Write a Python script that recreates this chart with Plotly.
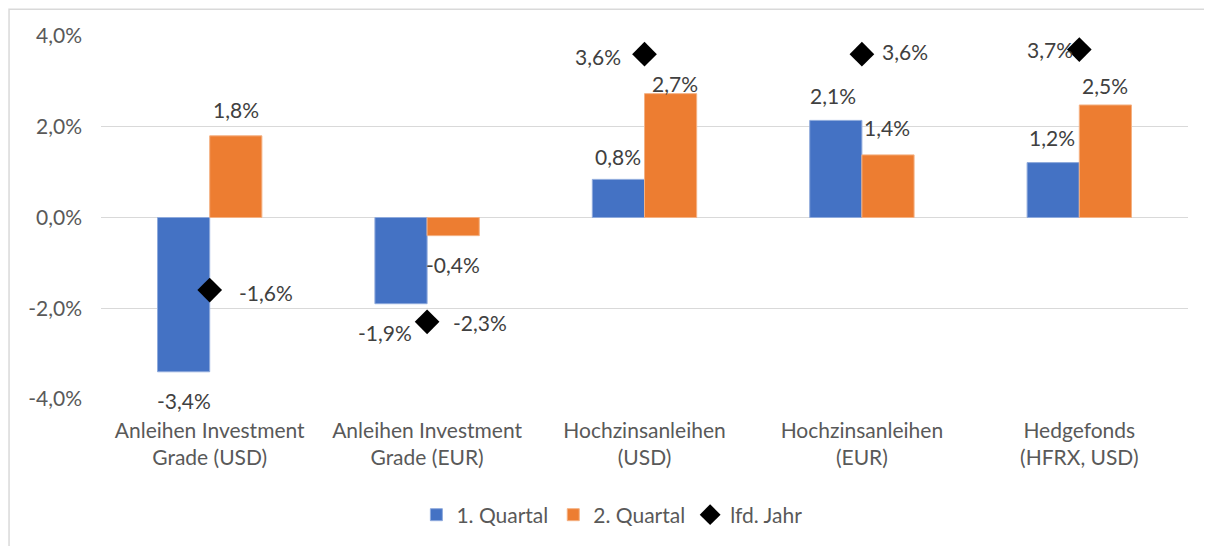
import plotly.graph_objects as go

categories = ["Anleihen Investment<br>Grade (USD)", "Anleihen Investment<br>Grade (EUR)",
              "Hochzinsanleihen<br>(USD)", "Hochzinsanleihen<br>(EUR)", "Hedgefonds<br>(HFRX, USD)"]
q1 = [-3.4, -1.9, 0.84, 2.14, 1.21]
q2 = [1.8, -0.4, 2.73, 1.38, 2.48]
ytd = [-1.6, -2.3, 3.6, 3.6, 3.7]
y_ticks = [-4, -2, 0, 2, 4]

BLUE = "#4472C4"
ORANGE = "#ED7D31"
FONT = "Lato"
GRID = "#D9D9D9"
FS = 21

def fmt(v):
    s = f"{v:.1f}".replace(".", ",")
    return s + "%"

fig = go.Figure()
fig.add_trace(go.Bar(name="1. Quartal", x=categories, y=q1, marker=dict(color=BLUE, line=dict(color="#8FAADC", width=1))))
fig.add_trace(go.Bar(name="2. Quartal", x=categories, y=q2, marker=dict(color=ORANGE, line=dict(color="#F4B183", width=1))))
fig.add_trace(go.Scatter(name="lfd. Jahr", x=categories, y=ytd, mode="markers",
                         marker=dict(symbol="diamond", size=19, color="black")))

# label offsets (pixels) relative to bar end / marker
q1_off = [(0, -29), (-16, -29), (0, 23), (-3, 25), (-1, 25)]
q2_off = [(0, 26), (0, -29), (4, 10), (-1, 27), (0, 19)]
ytd_off = [(56, -2), (53, -1), (-47, -2), (43, 3), (-29, 0)]
bar_half = 0.12

anns = []
for i in range(len(categories)):
    anns.append(dict(x=i - bar_half, y=q1[i], text=fmt(q1[i]), xshift=q1_off[i][0], yshift=q1_off[i][1]))
    anns.append(dict(x=i + bar_half, y=q2[i], text=fmt(q2[i]), xshift=q2_off[i][0], yshift=q2_off[i][1]))
    anns.append(dict(x=i, y=ytd[i], text=fmt(ytd[i]), xshift=ytd_off[i][0], yshift=ytd_off[i][1]))
for a in anns:
    a.update(xref="x", yref="y", showarrow=False, font=dict(family=FONT, size=FS, color="#404040"),
             xanchor="center", yanchor="middle")

fig.update_layout(
    width=1204, height=538,
    margin=dict(l=93, r=24, t=28, b=146),
    paper_bgcolor="white", plot_bgcolor="white",
    barmode="group", bargap=0.52, bargroupgap=0,
    font=dict(family=FONT, size=FS, color="#595959"),
    showlegend=True,
    legend=dict(orientation="h", x=0.47, xanchor="center", y=-0.316, yanchor="middle",
                font=dict(family=FONT, size=FS, color="#595959"), traceorder="normal"),
    annotations=anns,
    shapes=[dict(type="rect", xref="paper", yref="paper", x0=-0.0846, x1=1.0156, y0=-0.45, y1=1.074,
                 line=dict(color=GRID, width=1.5), layer="below")],
)
fig.update_xaxes(type="category", showgrid=False, showline=False, ticks="", zeroline=False,
                 ticklabelstandoff=17,
                 tickfont=dict(family=FONT, size=FS, color="#595959"))
fig.update_yaxes(range=[-4, 4], tickvals=y_ticks, ticktext=[fmt(v) for v in y_ticks],
                 showgrid=True, gridcolor=GRID, gridwidth=1, zeroline=True, zerolinecolor=GRID,
                 zerolinewidth=1, showline=False, ticklabelstandoff=18,
                 tickfont=dict(family=FONT, size=FS, color="#595959"))

fig.write_html("out.html")
